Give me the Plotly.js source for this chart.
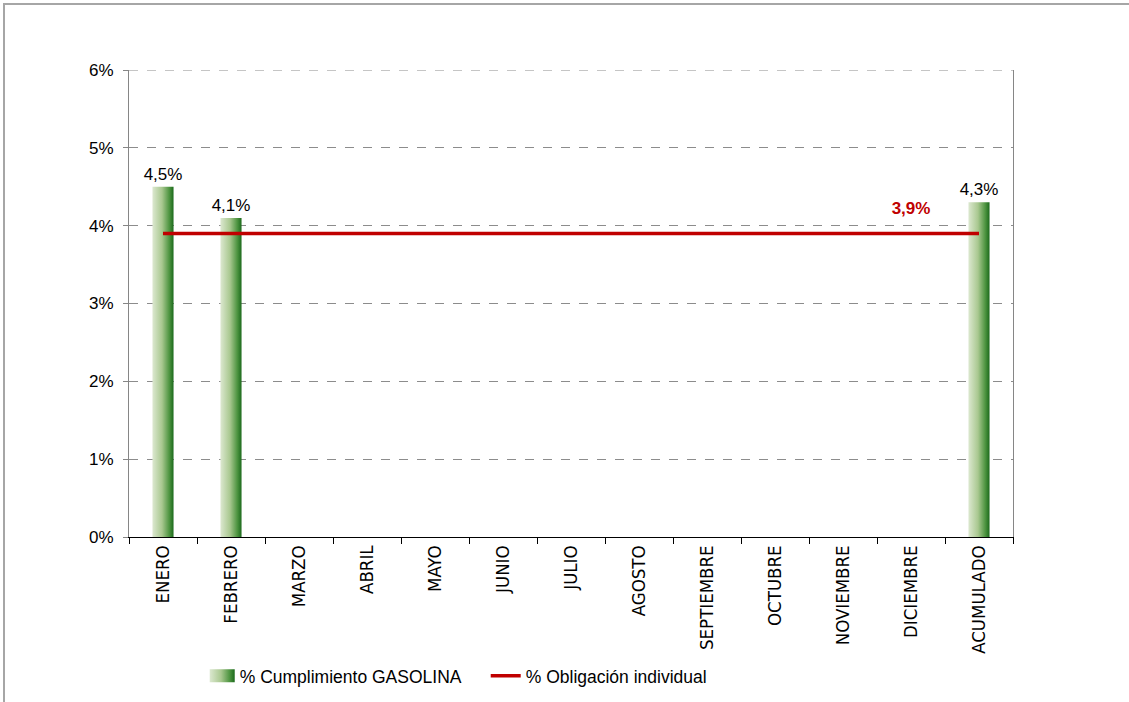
<!DOCTYPE html>
<html>
<head>
<meta charset="utf-8">
<script src="https://cdn.plot.ly/plotly-3.0.1.min.js"></script>
<style>
  html, body { margin: 0; padding: 0; background: #fff; }
  #wrap { position: relative; width: 1129px; height: 702px; overflow: hidden; }
  #chart { width: 1129px; height: 702px; }
  #frame { position: absolute; left: 3px; top: 3px; width: 1300px; height: 900px;
           border-top: 2px solid #a6a6a6; border-left: 2px solid #a6a6a6; pointer-events: none; }
</style>
</head>
<body>
<div id="wrap">
  <div id="chart"></div>
  <div id="frame"></div>
</div>
<script>
// ---- data ----
const categories = ["ENERO","FEBRERO","MARZO","ABRIL","MAYO","JUNIO","JULIO","AGOSTO",
                    "SEPTIEMBRE","OCTUBRE","NOVIEMBRE","DICIEMBRE","ACUMULADO"];
const cumplimiento = [4.5, 4.1, null, null, null, null, null, null, null, null, null, null, 4.3];
const obligacion = [3.9, 3.9, 3.9, 3.9, 3.9, 3.9, 3.9, 3.9, 3.9, 3.9, 3.9, 3.9, 3.9];
const obligacionLabelIndex = 11;
const yTickVals = [0, 1, 2, 3, 4, 5, 6];
const yTickText = ["0%", "1%", "2%", "3%", "4%", "5%", "6%"];
const yMax = 6;

const lineText = obligacion.map((v, i) => i === obligacionLabelIndex ? (v.toFixed(1).replace('.', ',') + '%') : '');
const lineMarkerSize = obligacion.map((v, i) => i === obligacionLabelIndex ? 22 : 0);

const font = "Liberation Sans, Arial, sans-serif";

const traces = [
  {
    type: 'bar',
    name: '% Cumplimiento GASOLINA',
    x: categories,
    y: cumplimiento,
    width: 0.31,
    marker: { color: '#6fa35a', line: { width: 0 } },
    texttemplate: '%{y:.1f}%',
    textposition: 'outside',
    constraintext: 'none',
    cliponaxis: false,
    textfont: { family: font, size: 17, color: '#000' },
    outsidetextfont: { family: font, size: 17, color: '#000' },
    hoverinfo: 'skip'
  },
  {
    type: 'scatter',
    mode: 'lines+markers+text',
    name: '% Obligación individual',
    x: categories,
    y: obligacion,
    line: { color: '#c00000', width: 3.5 },
    marker: { size: lineMarkerSize, color: 'rgba(0,0,0,0)', line: { width: 0 } },
    text: lineText,
    textposition: 'top center',
    textfont: { family: font, size: 17, color: '#c00000', weight: 'bold' },
    cliponaxis: false,
    hoverinfo: 'skip'
  }
];

const layout = {
  width: 1129,
  height: 702,
  margin: { l: 129, r: 116, t: 70, b: 165, autoexpand: false },
  paper_bgcolor: '#fff',
  plot_bgcolor: '#fff',
  separators: ',.',
  showlegend: true,
  font: { family: font, size: 17, color: '#000' },
  xaxis: {
    type: 'category',
    range: [-0.5, 12.5],
    automargin: false,
    tickangle: -90,
    tickson: 'boundaries',
    ticks: 'outside',
    ticklen: 6,
    tickcolor: '#000',
    showline: true,
    linecolor: '#000',
    linewidth: 1,
    showgrid: false,
    tickfont: { family: "Liberation Sans Narrow, Arial Narrow, DejaVu Sans Condensed, sans-serif", size: 18.5, color: '#000' },
    fixedrange: true
  },
  yaxis: {
    automargin: false,
    range: [0, yMax],
    tickvals: yTickVals,
    ticktext: yTickText,
    ticks: 'outside',
    ticklen: 5,
    tickcolor: '#868686',
    showline: true,
    mirror: true,
    linecolor: '#868686',
    linewidth: 1,
    showgrid: true,
    gridcolor: '#8c8c8c',
    griddash: 'dash',
    gridwidth: 1,
    zeroline: false,
    ticklabelstandoff: 6,
    tickfont: { family: font, size: 17, color: '#000' },
    fixedrange: true
  },
  shapes: [
    { type: 'line', xref: 'paper', yref: 'y', x0: 0, x1: 1, y0: yMax, y1: yMax,
      line: { color: '#8c8c8c', width: 1, dash: 'dash' }, layer: 'below' }
  ],
  legend: {
    orientation: 'h',
    x: 0.080,
    xanchor: 'left',
    y: -0.259,
    yanchor: 'top',
    entrywidth: 241,
    entrywidthmode: 'pixels',
    font: { family: font, size: 17.5, color: '#000' },
    bgcolor: 'rgba(0,0,0,0)'
  }
};

Plotly.newPlot('chart', traces, layout, { staticPlot: true, displayModeBar: false }).then(function (gd) {
  const NS = 'http://www.w3.org/2000/svg';
  const svg = gd.querySelector('svg.main-svg');
  let defs = svg.querySelector('defs');
  if (!defs) { defs = document.createElementNS(NS, 'defs'); svg.insertBefore(defs, svg.firstChild); }
  const grad = document.createElementNS(NS, 'linearGradient');
  grad.setAttribute('id', 'gbar');
  grad.setAttribute('x1', '0'); grad.setAttribute('y1', '0');
  grad.setAttribute('x2', '1'); grad.setAttribute('y2', '0');
  [['0', '#dce8d0'], ['0.45', '#a9c890'], ['0.8', '#4d9440'], ['1', '#1c6a1c']].forEach(function (s) {
    const st = document.createElementNS(NS, 'stop');
    st.setAttribute('offset', s[0]);
    st.setAttribute('stop-color', s[1]);
    grad.appendChild(st);
  });
  defs.appendChild(grad);
  gd.querySelectorAll('.barlayer .point path').forEach(function (p) { p.style.fill = 'url(#gbar)'; });
  gd.querySelectorAll('.legend .legendpoints path').forEach(function (p) {
    const d = p.getAttribute('d') || '';
    if (p.closest('.legendbar') || (d.indexOf('H') >= 0 && d.indexOf('V') >= 0 && d.indexOf('Z') >= 0)) {
      p.setAttribute('d', 'M15,6.5H-10V-6.5H15Z');
      p.style.fill = 'url(#gbar)';
      p.style.stroke = 'none';
    }
  });
});
</script>
</body>
</html>
